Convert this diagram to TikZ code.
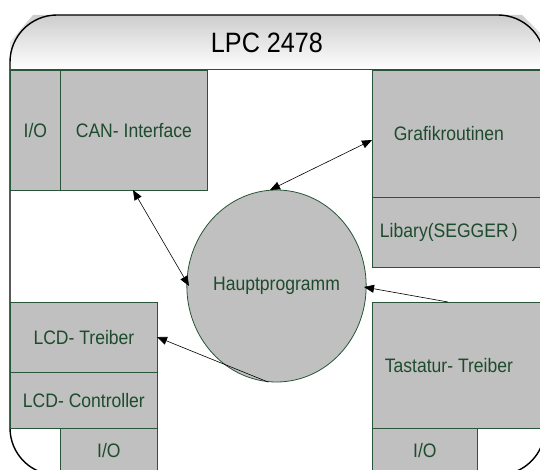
\documentclass[tikz,border=0pt]{standalone}
\usepackage{fontspec}
\setmainfont{Liberation Sans}
\newfontfamily\narrowsans[FakeStretch=0.9]{Liberation Sans}
\usetikzlibrary{arrows.meta,shapes.geometric}
\definecolor{boxgray}{RGB}{192,192,192}
\definecolor{boxline}{RGB}{40,85,55}
\definecolor{txtgreen}{RGB}{30,75,45}
\definecolor{hdrtop}{RGB}{205,205,205}
\tikzset{
  lbl/.style={text=txtgreen, font=\narrowsans\fontsize{19.5}{21}\selectfont},
  blk/.style={draw=boxline, line width=0.8pt, fill=boxgray, lbl,
    inner sep=0pt, anchor=north west},
  conn/.style={black, line width=0.6pt},
  tip/.style={-{Triangle[length=10pt,width=8pt]}},
  tips/.style={{Triangle[length=10pt,width=8pt]}-{Triangle[length=10pt,width=8pt]}}
}
\begin{document}
\begin{tikzpicture}[x=1pt,y=-1pt]
\useasboundingbox (0,0) rectangle (540,470);
\clip (0,0) rectangle (540,470);
% header fill (chamfered)
\shade[top color=hdrtop, bottom color=white]
  (10,70) -- (10,42) -- (33,15) -- (522,15) -- (545,38) -- (545,70) -- cycle;
% outer frame
\draw[black, line width=1.4pt, rounded corners=47pt]
  (10,250) -- (10,15) -- (545,15) -- (545,475) -- (10,475) -- cycle;
\node[font=\narrowsans\fontsize{28}{32}\selectfont] (title) at (267,43) {LPC 2478};
% boxes
\node[blk, minimum width=50pt, minimum height=120pt] (io1) at (10,70) {I/O};
\node[blk, minimum width=147pt, minimum height=120pt] (can) at (60,70) {CAN- Interface};
\node[blk, minimum width=173pt, minimum height=127pt] (graf) at (372,70) {\hspace*{-20pt}\raisebox{-4pt}{Grafikroutinen}};
\node[blk, minimum width=173pt, minimum height=70pt] (lib) at (372,197) {\hspace*{-20pt}Libary(SEGGER\,)};
\node[blk, minimum width=147pt, minimum height=70pt] (lcdt) at (10,302) {LCD- Treiber};
\node[blk, minimum width=147pt, minimum height=56pt] (lcdc) at (10,372) {LCD- Controller};
\node[blk, minimum width=97pt, minimum height=50pt] (io2) at (60,428) {\raisebox{5pt}{I/O}};
\node[blk, minimum width=173pt, minimum height=126pt] (tast) at (372,302) {\hspace*{-20pt}Tastatur- Treiber};
\node[blk, minimum width=105pt, minimum height=50pt] (io3) at (372,428) {\raisebox{5pt}{I/O}};
% header separator
\draw[boxline, line width=1pt] (10,70) -- (545,70);
% ellipse
\node[ellipse, draw=boxline, line width=0.8pt, fill=boxgray, lbl,
  minimum width=175pt, minimum height=192pt, inner sep=0pt] (hp) at (276.5,286) {Hauptprogramm};
% connectors
\coordinate (canb) at (133,190);
\coordinate (grafl) at (372,140);
\coordinate (tastt) at (448,302);
\coordinate (lcdr) at (157,337);
\coordinate (hpt) at (270,190);
\coordinate (hpw) at (189,286);
\coordinate (hpe) at (364,287);
\coordinate (hpb) at (268,382);
\draw[conn, tips] (canb) -- (hpw);
\draw[conn, tips] (grafl) -- (hpt);
\draw[conn, tip] (tastt) -- (hpe);
\draw[conn, tip] (hpb) -- (lcdr);
\end{tikzpicture}
\end{document}
